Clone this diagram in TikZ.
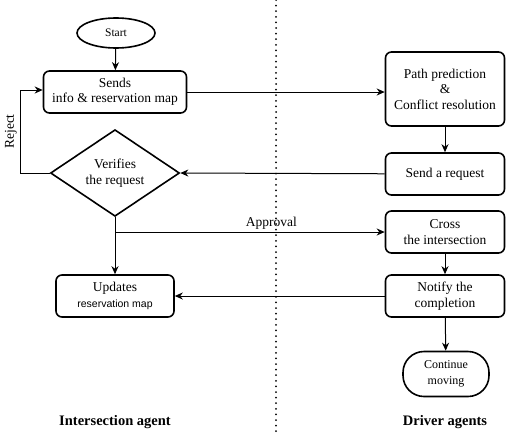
\documentclass[tikz,border=0pt]{standalone}
\usepackage{fontspec}
\setmainfont{Liberation Serif}
\setsansfont{Liberation Sans}
\usepackage{xcolor}
\usetikzlibrary{shapes.geometric, arrows.meta, positioning, calc}
\definecolor{FlowBlack}{RGB}{0, 0, 0}
\definecolor{FlowWhite}{RGB}{255, 255, 255}

\begin{document}
\begin{tikzpicture}[
    x=1pt, y=-1pt,
    font=\fontsize{13.5}{15.5}\selectfont,
    % Styles
    startstop/.style={ellipse, line width=1.6pt, inner sep=0pt, minimum width=78pt, minimum height=30pt, align=center, draw=FlowBlack, fill=FlowWhite, font=\fontsize{11.5}{13}\selectfont},
    process/.style={rectangle, rounded corners=6pt, line width=1.6pt, inner sep=0pt, minimum width=119pt, minimum height=42pt, align=center, draw=FlowBlack, fill=FlowWhite},
    decision/.style={diamond, line width=1.6pt, inner sep=0pt, minimum width=129pt, minimum height=80pt, align=center, draw=FlowBlack, fill=FlowWhite},
    terminal/.style={rectangle, rounded corners=21pt, line width=1.6pt, inner sep=0pt, minimum width=86pt, minimum height=45pt, align=center, draw=FlowBlack, fill=FlowWhite, font=\fontsize{12}{16}\selectfont},
    arrow/.style={line width=1pt, -{Stealth[length=8pt, width=7pt, inset=2.5pt]}, color=FlowBlack},
    line/.style={line width=1pt, -, color=FlowBlack},
    lanelabel/.style={font=\fontsize{14.5}{16}\selectfont\bfseries, text=FlowBlack}
]
\useasboundingbox (0,0) rectangle (510,434);

% ==========================================================================================
% INTERSECTION AGENT (Left Lane)
% ==========================================================================================

% Start
\node[startstop] (start) at (116,33) {Start};

% Sends info
\node[process, minimum width=143pt] (sends) at (115,92) {Sends\\info \& reservation map};

% Verifies the request
\node[decision] (verify) at (115,173) {Verifies\\the request};

% Updates reservation map
\node[process, minimum width=118pt] (updates) at (115,296) {Updates\\{\sffamily\fontsize{10.5}{12}\selectfont reservation map}};

% Branch point for approval
\coordinate (approval_split) at (115,232);

% ==========================================================================================
% DRIVER AGENTS (Right Lane)
% ==========================================================================================

\node[process, minimum height=74pt] (path_pred) at (445,89) {Path prediction\\\&\\Conflict resolution};
\node[process] (send_req) at (445,174) {Send a request};
\node[process] (cross) at (445,232) {Cross\\the intersection};
\node[process] (notify) at (445,296) {Notify the\\completion};
\node[terminal] (continue) at (446,374) {Continue\\moving};

% Lane separator
\coordinate (lane_top) at (276,0);
\coordinate (lane_bottom) at (276,434);
\draw[line width=2pt, line cap=round, dash pattern=on 0pt off 5.6pt] (lane_top) -- (lane_bottom);

% Arrows
\draw[arrow] (start) -- (sends);
\draw[arrow] (sends.east) -- (sends.east -| path_pred.west);
\draw[arrow] (path_pred) -- (send_req);
\draw[arrow] (send_req) -- (verify.east);
\draw[arrow] (verify.west) -- ++(-29,0) |- node[pos=0.25, above, rotate=90] {Reject} ([yshift=2pt]sends.west);
\draw[arrow] (verify.south) -- (updates.north);
\draw[arrow] (approval_split) -- node[pos=0.58, above, inner sep=2pt] {Approval} (cross.west);
\draw[arrow] (cross) -- (notify);
\draw[arrow] (notify) -- (updates);
\draw[arrow] (notify) -- (continue);

% Lane titles
\node[lanelabel] (left_title) at (115,422) {Intersection agent};
\node[lanelabel] (right_title) at (445,422) {Driver agents};

\end{tikzpicture}
\end{document}
